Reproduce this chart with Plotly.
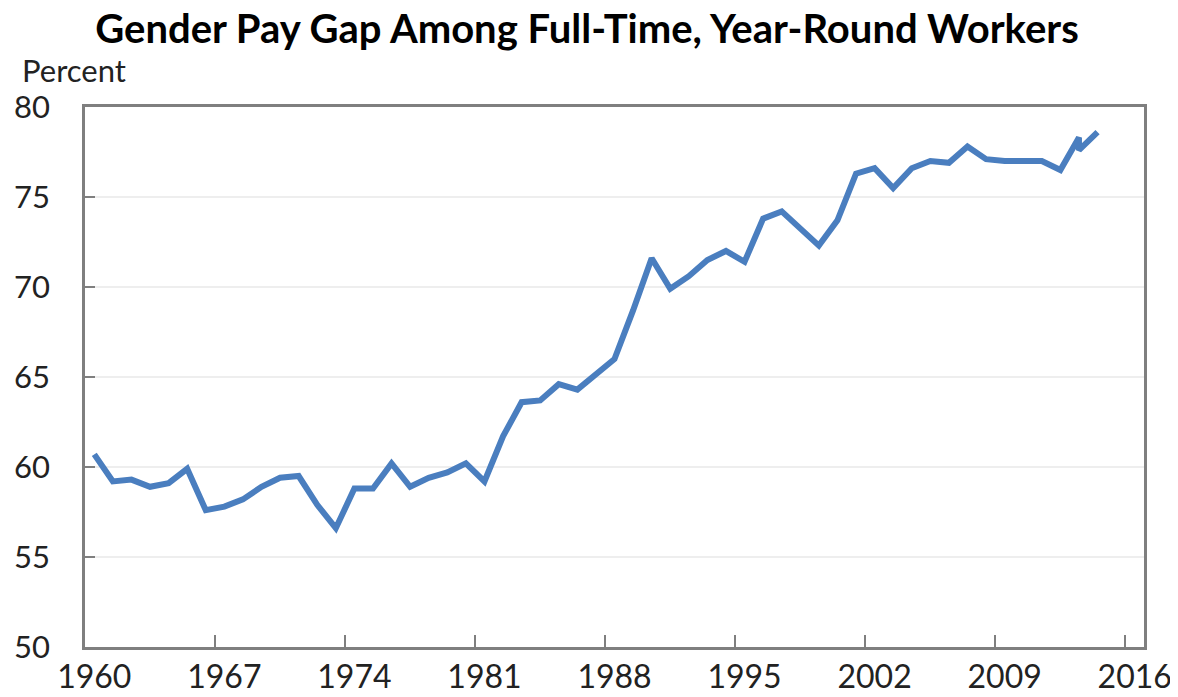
import plotly.graph_objects as go

# Data: female-to-male earnings ratio (percent)
years = list(range(1960, 2013)) + [2013, 2013, 2014]
ratio = [60.7, 59.2, 59.3, 58.9, 59.1, 59.9, 57.6, 57.8, 58.2, 58.9,
         59.4, 59.5, 57.9, 56.6, 58.8, 58.8, 60.2, 58.9, 59.4, 59.7,
         60.2, 59.2, 61.7, 63.6, 63.7, 64.6, 64.3, 65.2, 66.0, 68.7,
         71.6, 69.9, 70.6, 71.5, 72.0, 71.4, 73.8, 74.2, 73.2, 72.3,
         73.7, 76.3, 76.6, 75.5, 76.6, 77.0, 76.9, 77.8, 77.1, 77.0,
         77.0, 77.0, 76.5, 78.3, 77.6, 78.6]
tick_years = [1960, 1967, 1974, 1981, 1988, 1995, 2002, 2009, 2016]
y_ticks = [50, 55, 60, 65, 70, 75, 80]

FONT = "Lato"
OFF = 8  # default page margin around the plot div
W, H = 1178 - OFF, 697 - OFF
L, R, T, B = 85 - OFF, W + OFF - 1144, 107 - OFF, H + OFF - 647
PW, PH = W - L - R, H - T - B

fig = go.Figure()
fig.add_trace(go.Scatter(
    x=years, y=ratio, mode="lines",
    line=dict(color="#4a7ebf", width=6),
    hoverinfo="x+y", showlegend=False))
# invisible trace for the label axis
fig.add_trace(go.Scatter(x=[tick_years[0]], y=[50], xaxis="x2", mode="markers",
                         marker=dict(opacity=0), showlegend=False, hoverinfo="skip"))

fig.update_layout(
    width=W, height=H,
    margin=dict(l=L, r=R, t=T, b=B, autoexpand=False),
    paper_bgcolor="white", plot_bgcolor="white",
    font=dict(family=FONT, color="#111111"),
    title=dict(text="<b>Gender Pay Gap Among Full-Time, Year-Round Workers</b>",
               xref="container", x=(587 - OFF) / W, xanchor="center",
               yref="container", y=1 - (29 - OFF) / H, yanchor="middle",
               font=dict(size=40, family=FONT, color="#000000")),
    xaxis=dict(range=[1959.5, 2016.5], automargin=False,
               tickvals=[y - 0.5 for y in tick_years],
               ticktext=["" for _ in tick_years],
               ticks="inside", ticklen=12, tickwidth=2, tickcolor="#7f7f7f",
               showline=True, linecolor="#7f7f7f", linewidth=2.5, mirror=True,
               showgrid=False, zeroline=False),
    xaxis2=dict(range=[1959.5, 2016.5], overlaying="x", side="bottom",
                automargin=False, ticklabeloverflow="allow",
                tickvals=tick_years, ticktext=[str(y) for y in tick_years],
                ticks="", showline=False, showgrid=False, zeroline=False,
                ticklabelstandoff=8,
                tickfont=dict(size=32, family=FONT, color="#222222")),
    yaxis=dict(range=[50, 80], tickvals=y_ticks, automargin=False,
               ticks="inside", ticklen=10, tickwidth=2, tickcolor="#7f7f7f",
               showline=True, linecolor="#7f7f7f", linewidth=2.5, mirror=True,
               showgrid=True, gridcolor="#eeeeee", gridwidth=1.5,
               zeroline=False, ticklabelstandoff=26,
               tickfont=dict(size=31, family=FONT, color="#222222")),
    annotations=[dict(text="Percent", xref="paper", yref="paper",
                      x=(20 - 85) / PW, y=(647 - 70) / PH,
                      xanchor="left", yanchor="middle", showarrow=False,
                      font=dict(size=31, family=FONT, color="#222222"))],
)

fig.write_html("out.html")
